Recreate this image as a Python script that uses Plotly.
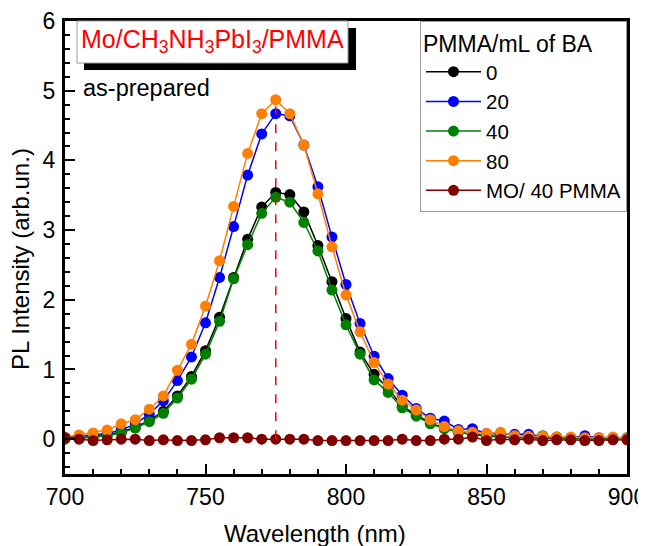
import plotly.graph_objects as go

wavelength = list(range(700, 905, 5))

pl_0 = [0.01, 0.02, 0.03, 0.06, 0.10, 0.17, 0.27, 0.40, 0.62, 0.90, 1.27, 1.75, 2.32, 2.87, 3.33,
        3.54, 3.51, 3.26, 2.78, 2.26, 1.73, 1.25, 0.93, 0.73, 0.47, 0.35, 0.23, 0.16, 0.10, 0.07,
        0.05, 0.03, 0.02, 0.02, 0.02, 0.01, 0.01, 0.01, 0.00, 0.01, 0.01]
pl_20 = [0.02, 0.04, 0.05, 0.08, 0.13, 0.22, 0.36, 0.55, 0.84, 1.18, 1.67, 2.32, 3.05, 3.79, 4.38,
         4.67, 4.64, 4.22, 3.62, 2.90, 2.22, 1.66, 1.19, 0.87, 0.63, 0.44, 0.30, 0.26, 0.14, 0.15,
         0.08, 0.07, 0.07, 0.07, 0.04, 0.03, 0.02, 0.05, 0.02, 0.02, 0.01]
pl_40 = [0.00, 0.01, 0.03, 0.05, 0.09, 0.16, 0.25, 0.37, 0.59, 0.86, 1.22, 1.69, 2.30, 2.79, 3.24,
         3.47, 3.40, 3.11, 2.70, 2.14, 1.64, 1.22, 0.85, 0.67, 0.45, 0.33, 0.22, 0.15, 0.10, 0.06,
         0.04, 0.03, 0.02, 0.03, 0.05, 0.02, 0.01, 0.01, 0.00, 0.01, 0.02]
pl_80 = [0.03, 0.06, 0.09, 0.13, 0.22, 0.28, 0.43, 0.62, 0.99, 1.36, 1.91, 2.56, 3.34, 4.10, 4.67,
         4.87, 4.67, 4.22, 3.52, 2.76, 2.07, 1.54, 1.10, 0.79, 0.56, 0.42, 0.28, 0.18, 0.12, 0.10,
         0.08, 0.10, 0.05, 0.04, 0.04, 0.03, 0.03, 0.02, 0.02, 0.03, 0.01]
pl_mo40 = [0.02, 0.00, -0.02, -0.01, 0.00, 0.00, -0.02, -0.01, -0.02, -0.02, -0.01, 0.02, 0.02, 0.02, 0.00,
           0.00, 0.00, 0.00, -0.02, -0.02, -0.02, -0.02, -0.02, -0.02, 0.00, -0.02, -0.02, 0.00, 0.00, 0.03,
           -0.02, 0.00, -0.01, 0.00, -0.02, -0.01, -0.01, -0.02, -0.02, -0.01, -0.01]

series_names = ["0", "20", "40", "80", "MO/ 40 PMMA"]
series_values = [pl_0, pl_20, pl_40, pl_80, pl_mo40]
series_colors = ["#000000", "#0000FF", "#008000", "#FF8000", "#800000"]

x_ticks = [700, 750, 800, 850, 900]
y_ticks = [0, 1, 2, 3, 4, 5, 6]

FONT = "Arial, Liberation Sans, sans-serif"

fig = go.Figure()
for name, vals, col in zip(series_names, series_values, series_colors):
    fig.add_trace(go.Scatter(
        x=wavelength, y=vals, name=name, mode="lines+markers",
        line=dict(color=col, width=1.5),
        marker=dict(color=col, size=11, line=dict(width=0)),
    ))

# dashed marker of the peak position of the 80 series
peak_idx = max(range(len(pl_80)), key=lambda i: pl_80[i])
fig.add_trace(go.Scatter(
    x=[wavelength[peak_idx], wavelength[peak_idx]], y=[0, pl_80[peak_idx]],
    mode="lines", line=dict(color="#FF0000", width=1.5, dash="dash"),
    showlegend=False, hoverinfo="skip",
))

# the page body has an 8px margin, so the figure is laid out 8px smaller
OFF = 8
W, H = 646 - OFF, 546 - OFF
L, R, T, B = 65 - OFF, 19, 21 - OFF, 72
pw, ph = W - L - R, H - T - B

def px(x):  # reference pixel x -> paper
    return (x - OFF - L) / pw

def py(y):  # reference pixel y -> paper
    return (H - B - (y - OFF)) / ph

fig.update_layout(
    width=W, height=H,
    margin=dict(l=L, r=R, t=T, b=B, pad=0, autoexpand=False),
    paper_bgcolor="white", plot_bgcolor="white",
    font=dict(family=FONT, size=22, color="black"),
    showlegend=True,
    legend=dict(
        x=1, xanchor="right", y=1, yanchor="top",
        bgcolor="white", bordercolor="#999999", borderwidth=1,
        font=dict(family=FONT, size=20.5, color="black"),
        title=dict(text="PMMA/mL of BA", font=dict(family=FONT, size=23)),
        tracegroupgap=0, itemwidth=55,
    ),
    xaxis=dict(
        range=[700, 900], tickvals=x_ticks, ticktext=[str(v) for v in x_ticks],
        showgrid=False, zeroline=False, automargin=False,
        showline=True, linecolor="black", linewidth=3, mirror=True,
        ticks="inside", ticklen=10, tickwidth=2, tickcolor="black",
        minor=dict(dtick=10, ticks="inside", ticklen=5, tickwidth=2, tickcolor="black", showgrid=False),
        tickfont=dict(family=FONT, size=23),
        ticklabelstandoff=0, ticklabeloverflow="allow",
    ),
    yaxis=dict(
        range=[-0.5, 6], tickvals=y_ticks, ticktext=[str(v) for v in y_ticks],
        showgrid=False, zeroline=False, automargin=False,
        showline=True, linecolor="black", linewidth=3, mirror=True,
        ticks="inside", ticklen=10, tickwidth=2, tickcolor="black",
        minor=dict(dtick=0.2, ticks="inside", ticklen=5, tickwidth=2, tickcolor="black", showgrid=False),
        tickfont=dict(family=FONT, size=23),
        ticklabelstandoff=2, ticklabeloverflow="allow",
    ),
    shapes=[
        dict(type="rect", xref="paper", yref="paper",
             x0=px(84), x1=px(356), y0=py(70), y1=py(28),
             fillcolor="black", line=dict(width=0), layer="above"),
        dict(type="rect", xref="paper", yref="paper",
             x0=px(77), x1=px(348), y0=py(63), y1=py(21),
             fillcolor="white", line=dict(color="#999999", width=1), layer="above"),
    ],
    annotations=[
        dict(xref="paper", yref="paper", x=px(212.5), y=py(41), xanchor="center", yanchor="middle",
             text="Mo/CH<sub>3</sub>NH<sub>3</sub>PbI<sub>3</sub>/PMMA", showarrow=False,
             font=dict(family=FONT, size=25, color="#FF0000")),
        dict(xref="paper", yref="paper", x=px(81), y=py(88), xanchor="left", yanchor="middle",
             text="as-prepared", showarrow=False,
             font=dict(family=FONT, size=23.5, color="black")),
        dict(xref="paper", yref="paper", x=px(315), y=py(533), xanchor="center", yanchor="middle",
             text="Wavelength (nm)", showarrow=False,
             font=dict(family=FONT, size=24, color="black")),
        dict(xref="paper", yref="paper", x=px(20), y=py(259), xanchor="center", yanchor="middle",
             text="PL Intensity (arb.un.)", showarrow=False, textangle=-90,
             font=dict(family=FONT, size=24, color="black")),
    ],
)

fig.write_html("out.html")
